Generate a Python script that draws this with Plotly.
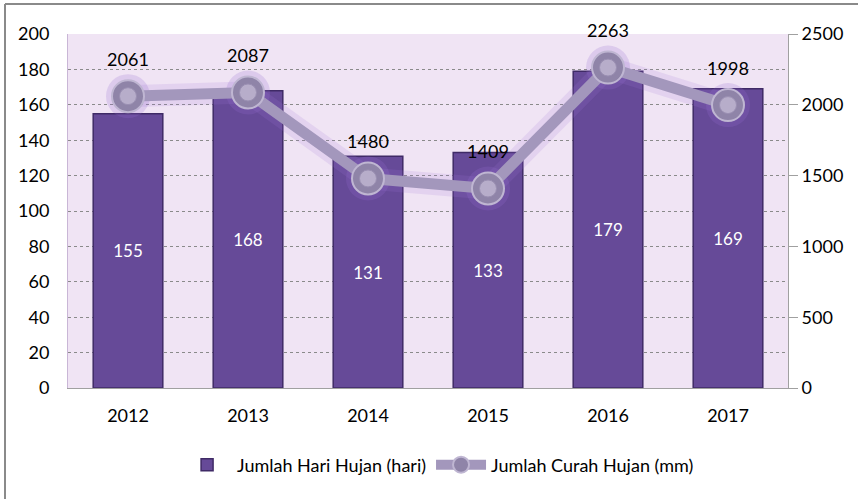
import plotly.graph_objects as go

years = ["2012", "2013", "2014", "2015", "2016", "2017"]
hari_hujan = [155, 168, 131, 133, 179, 169]
curah_hujan = [2061, 2087, 1480, 1409, 2263, 1998]
left_ticks = [0, 20, 40, 60, 80, 100, 120, 140, 160, 180, 200]
right_ticks = [0, 500, 1000, 1500, 2000, 2500]

FONT = "Lato, Carlito, 'Open Sans', sans-serif"

fig = go.Figure()

fig.add_trace(go.Bar(
    x=years, y=hari_hujan, name="Jumlah Hari Hujan (hari)",
    marker=dict(color="#664a98", line=dict(color="#3f2a66", width=1.5)),
    width=0.58,
    text=[str(v) for v in hari_hujan], textposition="inside",
    insidetextanchor="middle",
    textfont=dict(color="white", size=17, family=FONT),
    yaxis="y",
))

# glow under line
fig.add_trace(go.Scatter(
    x=years, y=curah_hujan, mode="lines+markers", yaxis="y2",
    line=dict(color="rgba(160,120,220,0.16)", width=22),
    marker=dict(size=44, color="rgba(150,110,210,0.22)"),
    showlegend=False, hoverinfo="skip",
))

fig.add_trace(go.Scatter(
    x=years, y=curah_hujan, name="Jumlah Curah Hujan (mm)",
    mode="lines+markers", yaxis="y2",
    line=dict(color="#a397bc", width=11),
    marker=dict(size=32, color="#8f84a8", line=dict(color="#bfb6d2", width=2)),
))

# inner highlight on markers
fig.add_trace(go.Scatter(
    x=years, y=curah_hujan, mode="markers", yaxis="y2",
    marker=dict(size=17, color="#b7adca", line=dict(color="#9a8fb2", width=1)),
    showlegend=False, hoverinfo="skip",
))

# value labels above the line points
fig.add_trace(go.Scatter(
    x=years, y=curah_hujan, mode="markers+text", yaxis="y2",
    marker=dict(size=40, color="rgba(0,0,0,0)"),
    text=[str(v) for v in curah_hujan], textposition="top center",
    textfont=dict(color="black", size=18, family=FONT),
    cliponaxis=False,
    showlegend=False, hoverinfo="skip",
))

fig.update_layout(
    width=858, height=499,
    margin=dict(l=68, r=70, t=34, b=111),
    paper_bgcolor="white",
    plot_bgcolor="#f0e4f4",
    font=dict(family=FONT, size=18, color="black"),
    bargap=0.42,
    xaxis=dict(
        type="category", range=[-0.5, 5.5],
        showgrid=False, showline=True, linecolor="#a0a0a0", linewidth=1,
        tickfont=dict(size=18), ticks="outside", ticklen=11,
        tickcolor="rgba(0,0,0,0)",
    ),
    yaxis=dict(
        range=[0, 200], tickvals=left_ticks, showgrid=True,
        gridcolor="#8a8a8a", griddash="dot", gridwidth=1,
        showline=True, linecolor="#c9b6d6", linewidth=1,
        tickfont=dict(size=18), zeroline=False,
        ticks="outside", ticklen=14, tickcolor="rgba(0,0,0,0)",
    ),
    yaxis2=dict(
        range=[0, 2500], tickvals=right_ticks, overlaying="y", side="right",
        showgrid=False, showline=True, linecolor="#a0a0a0", linewidth=1,
        ticks="outside", ticklen=9, tickcolor="#a0a0a0",
        tickfont=dict(size=18), zeroline=False,
    ),
    legend=dict(
        orientation="h", x=0.514, y=-0.2175, xanchor="center", yanchor="middle",
        font=dict(size=18), bgcolor="rgba(0,0,0,0)", itemwidth=50,
    ),
    shapes=[
        dict(type="line", xref="paper", yref="paper",
             x0=-0.0875, x1=1.2, y0=1.0847, y1=1.0847,
             line=dict(color="#8a8a8a", width=2)),
        dict(type="line", xref="paper", yref="paper",
             x0=-0.0875, x1=-0.0875, y0=1.0847, y1=-0.4,
             line=dict(color="#8a8a8a", width=2)),
    ],
)

fig.write_html("out.html", config={"displayModeBar": False},
               post_script="document.body.style.margin='0';document.body.style.overflow='hidden';")
